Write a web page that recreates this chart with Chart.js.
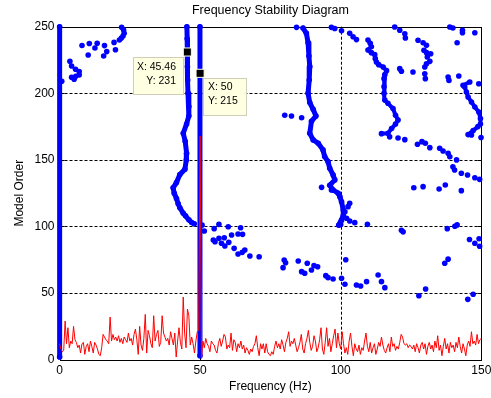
<!DOCTYPE html>
<html><head><meta charset="utf-8">
<script src="https://cdn.jsdelivr.net/npm/chart.js@4/dist/chart.umd.min.js"></script>
<style>html,body{margin:0;padding:0;background:#fff;}#wrap{width:491px;height:398px;}</style>
</head><body><div id="wrap"><canvas id="c" width="491" height="398"></canvas></div>
<script>
const chartTitle = 'Frequency Stability Diagram';
const xTitle = 'Frequency (Hz)';
const yTitle = 'Model Order';
const xTicks = [0, 50, 100, 150];
const yTicks = [0, 50, 100, 150, 200, 250];

// dense stable columns [freq, order]
const stable0 = [[0.05, 2], [0.05, 250]];
const stable50 = [[49.95, 3], [49.95, 250]];

// dense branches [freq, order]
const branch45 = [[45.3,250],[45.4,241],[45.46,231],[45.5,220],[45.6,210],[45.7,200],[46.0,190],[46.0,183],[45.2,177],[44.0,170],[44.7,164],[45.2,155],[45.1,150],[44.6,143],[42.8,139],[41.6,133],[40.4,129],[40.8,125],[41.6,121],[42.2,117],[42.8,114],[44.0,110],[44.8,108],[46.0,105],[47.0,103],[47.9,102]];
const branch88 = [[86.6,249],[87.8,245],[88.4,238],[88.7,228],[89.0,220],[88.8,210],[88.4,200],[89.0,193],[90.2,188],[91.2,183],[89.6,179],[89.0,170],[90.2,165],[92.0,162.5],[93.7,157.5],[94.3,152.5],[95.5,148.7],[96.1,143.7],[97.3,138.7],[97.9,135],[96.1,131],[97.3,127.4],[99.1,125],[99.7,122.4],[100.3,118.6],[100.9,112.4],[100.9,108],[99.3,101]];
const branch113 = [[109.7,240],[110.5,237.5],[110.9,235],[109.7,232.5],[110.9,230.5],[112.1,229],[112.3,226],[112.7,223.5],[113.5,221.5],[115.1,219.7],[116.3,217],[115.7,214],[115.4,211],[115.4,205],[115.4,200],[115.7,195],[116.8,192.5],[118.6,188.6],[119.5,183.5],[120.4,180],[119.5,177],[118.1,173.5],[116.8,170],[114.5,169.7]];
const branch145 = [[145.9,208.5],[143.5,206],[144.1,204.7],[144.7,201],[145.3,197.2],[146.5,193.5],[147.7,189.7],[149.1,186],[149.7,181],[149.7,177],[148.8,175],[147.1,172],[145.3,169]];

// scattered poles [freq, order]
const scattered = [
 [22.1,249.5],[22.8,247.5],[23.0,245],[22.6,243],[22.0,241.5],[21.3,240],[19.4,238.2],[19.9,232.7],[16.0,235.8],[13.4,237.6],[10.6,237.4],[8.0,235.9],[10.2,228.7],[12.6,234],[16.8,231.3],[15.7,228],
 [3.7,224],[4.3,220.5],[5.7,218],[7.0,216.3],[7.0,213.8],[5.8,212.8],[4.3,212],[5.2,210.5],[0.8,209],
 [50.7,101],[51.5,96.6],[56.7,101.6],[60.0,99.8],[64.4,99.1],[55.0,98.4],[54.7,89.9],[55.3,88.6],[56.7,91.1],[58.6,91.6],[61.2,93.6],[63.5,94.4],[65.1,94.1],[57.6,87.4],[58.8,85.4],[60.2,88.1],[62.1,83.6],[63.5,79.4],[65.0,80.6],[65.9,82.4],[67.7,77.9],[71.0,77.3],
 [79.9,74.8],[80.4,72.8],[79.5,69.1],[84.9,74.1],[86.1,66.1],[87.2,64.9],[88.1,72.4],[89.6,67.3],[90.5,70.6],[91.8,69.8],[94.7,63.1],[95.5,61.6],[97.3,60.6],[100.3,61.1],[101.5,56.6],[101.8,75],[105.6,56.1],[107.1,55.3],[109.2,58.6],[113.3,63.6],[114.5,58.6],[115.7,54.1],
 [121.6,97.2],[122.2,96],[127.8,48],[130.2,53.1],[137.0,72.4],[138.2,75.5],[137.9,98.4],[140.6,100.2],[141.4,101.2],[145.2,45.3],[147.1,49.1],[145.8,90.2],[147.7,87.4],[149.2,90.8],[149.4,85.2],
 [80.1,183.5],[82.5,183],[86.1,181.6],
 [84.3,249.5],[93.2,129.4],[96.7,127.4],[103.2,117.4],[102.6,114.9],[101.5,111.1],[102.1,106.2],[103.2,104.1],[105.0,102.9],[109.5,101.6],[100.3,104.5],[100.0,101.5],
 [96.7,249.5],[97.9,248.6],[100.3,247],[103.2,245],[104.4,242.5],[105.6,240.3],
 [119.2,249.8],[121.0,247.3],[122.8,244.7],[123.0,241.5],[127.5,239.8],[129.3,238],[130.5,236],[129.6,232.3],[130.5,230.5],[132.0,229.7],[130.8,227.3],[131.7,224],[130.5,222.2],[129.9,219.7],[129.9,214.7],[130.1,211],[121.0,218.5],[121.6,216.5],[125.7,216],
 [138.8,249.8],[139.9,249],[143.3,247.3],[143.3,245.5],[147.7,245.5],[141.4,238],[138.2,212.2],[138.5,209.7],[142.0,213],[149.1,207.2],
 [117.4,167.3],[120.4,166.4],[122.8,165.2],[127.3,161.7],[128.9,163.7],[130.1,162.5],[131.7,159.2],[135.2,158.7],[136.4,156.7],[138.2,155],[138.8,152.4],[141.2,150],[139.9,144.9],[140.5,142.4],[142.9,140],[145.1,138.7],[147.7,136.6],[149.4,135.4],
 [126.0,129.1],[129.3,129.9],[135.0,128.2],[137.2,131.2],[142.9,126.9],[146.5,168.7],[149.9,166.8]
];

// spectrum overlay, one value per 0.5 Hz from 0 to 150 Hz
const spectrumStep = 0.5;
const spectrum = [
 12,8,6,7,29,12,24,9,14,12,25,15,13,9,11,5,12,13,4,10,
 12,6,14,10,5,13,11,8,4,3,9,19,17,15,14,12,32,14,19,15,
 17,14,18,13,16,12,17,15,13,20,14,16,11,19,23,15,4,25,11,7,
 16,34,5,22,18,12,9,33,14,19,22,10,13,33,20,17,14,16,11,21,
 16,11,20,2,14,24,13,8,47,20,9,38,33,11,17,12,5,14,21,22,
 168,
 1,14,9,16,12,10,6,14,12,11,7,5,12,16,10,14,19,17,8,
 11,9,20,7,15,13,6,12,9,14,8,11,5,9,7,4,8,6,10,12,
 18,9,3,12,8,12,5,12,6,4,3,6,4,10,14,9,12,8,15,11,
 6,13,16,21,10,14,12,16,11,6,9,13,19,8,5,12,16,22,13,7,
 10,18,14,6,9,15,24,8,4,13,24,10,16,6,12,18,23,9,20,12,
 8,21,12,5,9,4,14,20,10,3,12,8,6,11,4,9,7,14,20,10,
 6,13,5,9,12,4,8,13,10,17,11,7,5,9,12,6,17,10,12,7,
 10,8,13,19,17,12,11,12,9,11,10,8,11,6,12,9,5,11,13,8,
 12,4,10,13,8,11,6,14,9,18,7,11,3,10,16,8,12,5,13,9,
 11,6,13,9,17,10,5,12,8,3,11,14,10,21,12,14,11,19,12,15,16
];

// data tips
const tipFreq = [45.46, 50];
const tipOrder = [231, 215];

const FONT = '"Liberation Sans", Arial, Helvetica, sans-serif';
const BLUE = '#0000ff';
const toXY = arr => arr.map(p => ({x: p[0], y: p[1]}));

function pathDataset(arr, width) {
  return {data: toXY(arr), showLine: true, borderColor: BLUE, borderWidth: width, backgroundColor: BLUE,
    pointRadius: 2.8, pointBorderWidth: 0, pointBackgroundColor: BLUE, borderCapStyle: 'round', borderJoinStyle: 'round',
    tension: 0, order: 2, clip: 4};
}

const mlPlugin = {
  id: 'ml',
  beforeDraw(chart) {
    const ctx = chart.ctx; ctx.save(); ctx.fillStyle = '#fff'; ctx.fillRect(0, 0, chart.width, chart.height); ctx.restore();
  },
  beforeDatasetsDraw(chart) {
    const {ctx, chartArea: a, scales: {x, y}} = chart;
    ctx.save(); ctx.strokeStyle = '#000'; ctx.lineWidth = 1; ctx.setLineDash([3, 2]);
    xTicks.forEach(v => { if (v === x.min || v === x.max) return; const px = Math.round(x.getPixelForValue(v)) + 0.5;
      ctx.beginPath(); ctx.moveTo(px, a.top); ctx.lineTo(px, a.bottom); ctx.stroke(); });
    yTicks.forEach(v => { if (v === y.min || v === y.max) return; const py = Math.round(y.getPixelForValue(v)) + 0.5;
      ctx.beginPath(); ctx.moveTo(a.left, py); ctx.lineTo(a.right, py); ctx.stroke(); });
    // axes box and inward ticks (under the data, as in the reference)
    ctx.setLineDash([]);
    const L = Math.round(a.left) + 0.5, R = Math.round(a.right) + 0.5, T = Math.round(a.top) + 0.5, B = Math.round(a.bottom) + 0.5;
    ctx.strokeRect(L, T, R - L, B - T);
    const tl = 4;
    ctx.beginPath();
    xTicks.forEach(v => { const px = Math.round(x.getPixelForValue(v)) + 0.5; ctx.moveTo(px, B); ctx.lineTo(px, B - tl); ctx.moveTo(px, T); ctx.lineTo(px, T + tl); });
    yTicks.forEach(v => { const py = Math.round(y.getPixelForValue(v)) + 0.5; ctx.moveTo(L, py); ctx.lineTo(L + tl, py); ctx.moveTo(R, py); ctx.lineTo(R - tl, py); });
    ctx.stroke();
    ctx.restore();
  },
  afterDatasetsDraw(chart) {
    const {ctx, chartArea: a, scales: {x, y}} = chart;
    ctx.save();
    // data tip boxes
    ctx.font = '10.5px ' + FONT; ctx.textBaseline = 'middle';
    tipFreq.forEach((f, i) => {
      const mx = x.getPixelForValue(f), my = y.getPixelForValue(tipOrder[i]);
      const l1 = 'X: ' + f, l2 = 'Y: ' + tipOrder[i];
      let bx, bw, by = Math.round(my + 5), bh = 37;
      if (i === 0) { bw = 50; bx = Math.round(mx - 54); } else { bw = 43; bx = Math.round(mx + 3); }
      ctx.fillStyle = '#ffffe1'; ctx.fillRect(bx, by, bw, bh);
      ctx.strokeStyle = '#cfcfb8'; ctx.lineWidth = 1; ctx.strokeRect(bx + 0.5, by + 0.5, bw, bh);
      ctx.fillStyle = '#000';
      if (i === 0) { ctx.textAlign = 'right'; ctx.fillText(l1, bx + 43, by + 10.5); ctx.fillText(l2, bx + 43, by + 24.5); }
      else { ctx.textAlign = 'left'; ctx.fillText(l1, bx + 5, by + 9.5); ctx.fillText(l2, bx + 5, by + 23.5); }
    });
    // titles
    ctx.fillStyle = '#000'; ctx.font = '12.5px ' + FONT; ctx.textAlign = 'center'; ctx.textBaseline = 'middle';
    const cx = (a.left + a.right) / 2;
    ctx.fillText(chartTitle, cx, 11);
    ctx.font = '12px ' + FONT;
    ctx.fillText(xTitle, cx, 387);
    ctx.save(); ctx.translate(20, (a.top + a.bottom) / 2); ctx.rotate(-Math.PI / 2); ctx.fillText(yTitle, 0, 0); ctx.restore();
    ctx.restore();
  }
};

Chart.defaults.font.family = FONT;
Chart.defaults.font.size = 12;
Chart.defaults.color = '#000';

new Chart(document.getElementById('c'), {
  type: 'scatter',
  data: {
    datasets: [
      {data: spectrum.map((v, i) => ({x: i * spectrumStep, y: v})), showLine: true, borderColor: '#ff0000', borderWidth: 1,
        pointRadius: 0, tension: 0, order: 0, clip: 2},
      {data: tipFreq.map((f, i) => ({x: f, y: tipOrder[i]})), pointStyle: 'rect', pointRadius: 5.7, backgroundColor: '#000',
        borderColor: '#ffffe1', borderWidth: 1, order: -1, clip: false},
      {data: toXY(scattered), pointRadius: 2.8, pointBorderWidth: 0, backgroundColor: BLUE, borderColor: BLUE, order: 2, clip: 4},
      pathDataset(stable0, 5), pathDataset(stable50, 5), pathDataset(branch45, 5), pathDataset(branch88, 5),
      pathDataset(branch113, 4), pathDataset(branch145, 4)
    ]
  },
  options: {
    responsive: false, animation: false, events: [],
    layout: {padding: {top: 26.7, right: 9.7, left: 0, bottom: 0}},
    plugins: {legend: {display: false}, tooltip: {enabled: false}, title: {display: false}},
    scales: {
      x: {type: 'linear', min: 0, max: 150, grid: {display: false, drawTicks: false}, border: {display: false},
        ticks: {stepSize: 50, padding: 4, maxRotation: 0, color: '#000', font: {size: 12}},
        afterFit(s) { s.height = 38.3; s.paddingLeft = 0; s.paddingRight = 0; }},
      y: {type: 'linear', min: 0, max: 250, grid: {display: false, drawTicks: false}, border: {display: false},
        ticks: {stepSize: 50, padding: 5, color: '#000', font: {size: 12}},
        afterFit(s) { s.width = 59.5; s.paddingTop = 0; s.paddingBottom = 0; }}
    }
  },
  plugins: [mlPlugin]
});
</script></body></html>
